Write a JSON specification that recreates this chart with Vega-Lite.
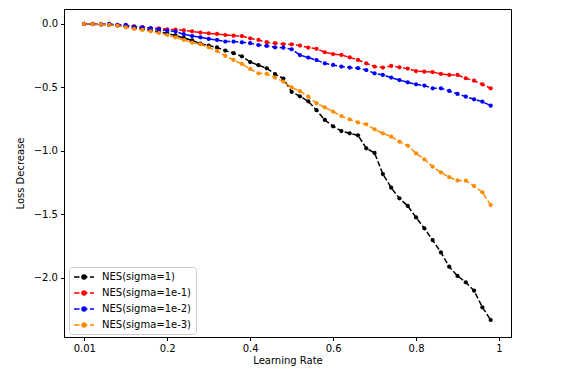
{
  "$schema": "https://vega.github.io/schema/vega-lite/v6.json",
  "width": 447,
  "height": 328,
  "autosize": "none",
  "padding": {"left": 64, "top": 9, "right": 53, "bottom": 37},
  "background": "white",
  "config": {
    "font": "DejaVu Sans",
    "view": {"stroke": "black", "strokeWidth": 1},
    "axis": {"grid": false, "domainColor": "black", "tickColor": "black", "tickSize": 3.5, "labelFontSize": 10, "labelColor": "black", "titleFontSize": 10, "titleFontWeight": "normal", "titleColor": "black", "labelPadding": 3, "labelFont": "DejaVu Sans", "titleFont": "DejaVu Sans"}
  },
  "data": {"values": [
    {"x":0,"s":"NES(sigma=1)","y":0},{"x":0.02,"s":"NES(sigma=1)","y":-0.002},{"x":0.04,"s":"NES(sigma=1)","y":-0.004},{"x":0.06,"s":"NES(sigma=1)","y":-0.008},{"x":0.08,"s":"NES(sigma=1)","y":-0.013},{"x":0.1,"s":"NES(sigma=1)","y":-0.02},{"x":0.12,"s":"NES(sigma=1)","y":-0.03},{"x":0.14,"s":"NES(sigma=1)","y":-0.04},{"x":0.16,"s":"NES(sigma=1)","y":-0.05},{"x":0.18,"s":"NES(sigma=1)","y":-0.06},
    {"x":0.2,"s":"NES(sigma=1)","y":-0.075},{"x":0.22,"s":"NES(sigma=1)","y":-0.09},{"x":0.24,"s":"NES(sigma=1)","y":-0.11},{"x":0.26,"s":"NES(sigma=1)","y":-0.13},{"x":0.28,"s":"NES(sigma=1)","y":-0.155},{"x":0.3,"s":"NES(sigma=1)","y":-0.17},{"x":0.32,"s":"NES(sigma=1)","y":-0.185},{"x":0.34,"s":"NES(sigma=1)","y":-0.21},{"x":0.36,"s":"NES(sigma=1)","y":-0.23},{"x":0.38,"s":"NES(sigma=1)","y":-0.255},
    {"x":0.4,"s":"NES(sigma=1)","y":-0.3},{"x":0.42,"s":"NES(sigma=1)","y":-0.325},{"x":0.44,"s":"NES(sigma=1)","y":-0.35},{"x":0.46,"s":"NES(sigma=1)","y":-0.395},{"x":0.48,"s":"NES(sigma=1)","y":-0.43},{"x":0.5,"s":"NES(sigma=1)","y":-0.535},{"x":0.52,"s":"NES(sigma=1)","y":-0.57},{"x":0.54,"s":"NES(sigma=1)","y":-0.61},{"x":0.56,"s":"NES(sigma=1)","y":-0.68},{"x":0.58,"s":"NES(sigma=1)","y":-0.757},
    {"x":0.6,"s":"NES(sigma=1)","y":-0.807},{"x":0.62,"s":"NES(sigma=1)","y":-0.844},{"x":0.64,"s":"NES(sigma=1)","y":-0.862},{"x":0.66,"s":"NES(sigma=1)","y":-0.878},{"x":0.68,"s":"NES(sigma=1)","y":-0.98},{"x":0.7,"s":"NES(sigma=1)","y":-1.017},{"x":0.72,"s":"NES(sigma=1)","y":-1.183},{"x":0.74,"s":"NES(sigma=1)","y":-1.291},{"x":0.76,"s":"NES(sigma=1)","y":-1.375},{"x":0.78,"s":"NES(sigma=1)","y":-1.435},
    {"x":0.8,"s":"NES(sigma=1)","y":-1.525},{"x":0.82,"s":"NES(sigma=1)","y":-1.611},{"x":0.84,"s":"NES(sigma=1)","y":-1.704},{"x":0.86,"s":"NES(sigma=1)","y":-1.801},{"x":0.88,"s":"NES(sigma=1)","y":-1.914},{"x":0.9,"s":"NES(sigma=1)","y":-1.987},{"x":0.92,"s":"NES(sigma=1)","y":-2.037},{"x":0.94,"s":"NES(sigma=1)","y":-2.103},{"x":0.96,"s":"NES(sigma=1)","y":-2.234},{"x":0.98,"s":"NES(sigma=1)","y":-2.334},

    {"x":0,"s":"NES(sigma=1e-1)","y":0},{"x":0.02,"s":"NES(sigma=1e-1)","y":0},{"x":0.04,"s":"NES(sigma=1e-1)","y":-0.003},{"x":0.06,"s":"NES(sigma=1e-1)","y":-0.003},{"x":0.08,"s":"NES(sigma=1e-1)","y":-0.008},{"x":0.1,"s":"NES(sigma=1e-1)","y":-0.013},{"x":0.12,"s":"NES(sigma=1e-1)","y":-0.018},{"x":0.14,"s":"NES(sigma=1e-1)","y":-0.024},{"x":0.16,"s":"NES(sigma=1e-1)","y":-0.032},{"x":0.18,"s":"NES(sigma=1e-1)","y":-0.034},
    {"x":0.2,"s":"NES(sigma=1e-1)","y":-0.042},{"x":0.22,"s":"NES(sigma=1e-1)","y":-0.045},{"x":0.24,"s":"NES(sigma=1e-1)","y":-0.05},{"x":0.26,"s":"NES(sigma=1e-1)","y":-0.058},{"x":0.28,"s":"NES(sigma=1e-1)","y":-0.068},{"x":0.3,"s":"NES(sigma=1e-1)","y":-0.074},{"x":0.32,"s":"NES(sigma=1e-1)","y":-0.079},{"x":0.34,"s":"NES(sigma=1e-1)","y":-0.087},{"x":0.36,"s":"NES(sigma=1e-1)","y":-0.092},{"x":0.38,"s":"NES(sigma=1e-1)","y":-0.095},
    {"x":0.4,"s":"NES(sigma=1e-1)","y":-0.113},{"x":0.42,"s":"NES(sigma=1e-1)","y":-0.126},{"x":0.44,"s":"NES(sigma=1e-1)","y":-0.144},{"x":0.46,"s":"NES(sigma=1e-1)","y":-0.152},{"x":0.48,"s":"NES(sigma=1e-1)","y":-0.158},{"x":0.5,"s":"NES(sigma=1e-1)","y":-0.16},{"x":0.52,"s":"NES(sigma=1e-1)","y":-0.17},{"x":0.54,"s":"NES(sigma=1e-1)","y":-0.186},{"x":0.56,"s":"NES(sigma=1e-1)","y":-0.196},{"x":0.58,"s":"NES(sigma=1e-1)","y":-0.223},
    {"x":0.6,"s":"NES(sigma=1e-1)","y":-0.237},{"x":0.62,"s":"NES(sigma=1e-1)","y":-0.244},{"x":0.64,"s":"NES(sigma=1e-1)","y":-0.263},{"x":0.66,"s":"NES(sigma=1e-1)","y":-0.284},{"x":0.68,"s":"NES(sigma=1e-1)","y":-0.31},{"x":0.7,"s":"NES(sigma=1e-1)","y":-0.336},{"x":0.72,"s":"NES(sigma=1e-1)","y":-0.344},{"x":0.74,"s":"NES(sigma=1e-1)","y":-0.331},{"x":0.76,"s":"NES(sigma=1e-1)","y":-0.342},{"x":0.78,"s":"NES(sigma=1e-1)","y":-0.352},
    {"x":0.8,"s":"NES(sigma=1e-1)","y":-0.371},{"x":0.82,"s":"NES(sigma=1e-1)","y":-0.376},{"x":0.84,"s":"NES(sigma=1e-1)","y":-0.379},{"x":0.86,"s":"NES(sigma=1e-1)","y":-0.394},{"x":0.88,"s":"NES(sigma=1e-1)","y":-0.402},{"x":0.9,"s":"NES(sigma=1e-1)","y":-0.402},{"x":0.92,"s":"NES(sigma=1e-1)","y":-0.428},{"x":0.94,"s":"NES(sigma=1e-1)","y":-0.447},{"x":0.96,"s":"NES(sigma=1e-1)","y":-0.476},{"x":0.98,"s":"NES(sigma=1e-1)","y":-0.507},

    {"x":0,"s":"NES(sigma=1e-2)","y":0},{"x":0.02,"s":"NES(sigma=1e-2)","y":0},{"x":0.04,"s":"NES(sigma=1e-2)","y":-0.003},{"x":0.06,"s":"NES(sigma=1e-2)","y":0},{"x":0.08,"s":"NES(sigma=1e-2)","y":-0.008},{"x":0.1,"s":"NES(sigma=1e-2)","y":-0.008},{"x":0.12,"s":"NES(sigma=1e-2)","y":-0.021},{"x":0.14,"s":"NES(sigma=1e-2)","y":-0.026},{"x":0.16,"s":"NES(sigma=1e-2)","y":-0.034},{"x":0.18,"s":"NES(sigma=1e-2)","y":-0.042},
    {"x":0.2,"s":"NES(sigma=1e-2)","y":-0.053},{"x":0.22,"s":"NES(sigma=1e-2)","y":-0.06},{"x":0.24,"s":"NES(sigma=1e-2)","y":-0.081},{"x":0.26,"s":"NES(sigma=1e-2)","y":-0.095},{"x":0.28,"s":"NES(sigma=1e-2)","y":-0.105},{"x":0.3,"s":"NES(sigma=1e-2)","y":-0.118},{"x":0.32,"s":"NES(sigma=1e-2)","y":-0.126},{"x":0.34,"s":"NES(sigma=1e-2)","y":-0.139},{"x":0.36,"s":"NES(sigma=1e-2)","y":-0.139},{"x":0.38,"s":"NES(sigma=1e-2)","y":-0.145},
    {"x":0.4,"s":"NES(sigma=1e-2)","y":-0.152},{"x":0.42,"s":"NES(sigma=1e-2)","y":-0.166},{"x":0.44,"s":"NES(sigma=1e-2)","y":-0.173},{"x":0.46,"s":"NES(sigma=1e-2)","y":-0.184},{"x":0.48,"s":"NES(sigma=1e-2)","y":-0.187},{"x":0.5,"s":"NES(sigma=1e-2)","y":-0.2},{"x":0.52,"s":"NES(sigma=1e-2)","y":-0.245},{"x":0.54,"s":"NES(sigma=1e-2)","y":-0.265},{"x":0.56,"s":"NES(sigma=1e-2)","y":-0.285},{"x":0.58,"s":"NES(sigma=1e-2)","y":-0.31},
    {"x":0.6,"s":"NES(sigma=1e-2)","y":-0.323},{"x":0.62,"s":"NES(sigma=1e-2)","y":-0.336},{"x":0.64,"s":"NES(sigma=1e-2)","y":-0.344},{"x":0.66,"s":"NES(sigma=1e-2)","y":-0.349},{"x":0.68,"s":"NES(sigma=1e-2)","y":-0.363},{"x":0.7,"s":"NES(sigma=1e-2)","y":-0.389},{"x":0.72,"s":"NES(sigma=1e-2)","y":-0.402},{"x":0.74,"s":"NES(sigma=1e-2)","y":-0.423},{"x":0.76,"s":"NES(sigma=1e-2)","y":-0.442},{"x":0.78,"s":"NES(sigma=1e-2)","y":-0.46},
    {"x":0.8,"s":"NES(sigma=1e-2)","y":-0.476},{"x":0.82,"s":"NES(sigma=1e-2)","y":-0.486},{"x":0.84,"s":"NES(sigma=1e-2)","y":-0.507},{"x":0.86,"s":"NES(sigma=1e-2)","y":-0.507},{"x":0.88,"s":"NES(sigma=1e-2)","y":-0.528},{"x":0.9,"s":"NES(sigma=1e-2)","y":-0.552},{"x":0.92,"s":"NES(sigma=1e-2)","y":-0.573},{"x":0.94,"s":"NES(sigma=1e-2)","y":-0.594},{"x":0.96,"s":"NES(sigma=1e-2)","y":-0.613},{"x":0.98,"s":"NES(sigma=1e-2)","y":-0.644},

    {"x":0,"s":"NES(sigma=1e-3)","y":0},{"x":0.02,"s":"NES(sigma=1e-3)","y":-0.001},{"x":0.04,"s":"NES(sigma=1e-3)","y":-0.003},{"x":0.06,"s":"NES(sigma=1e-3)","y":-0.008},{"x":0.08,"s":"NES(sigma=1e-3)","y":-0.013},{"x":0.1,"s":"NES(sigma=1e-3)","y":-0.026},{"x":0.12,"s":"NES(sigma=1e-3)","y":-0.039},{"x":0.14,"s":"NES(sigma=1e-3)","y":-0.047},{"x":0.16,"s":"NES(sigma=1e-3)","y":-0.058},{"x":0.18,"s":"NES(sigma=1e-3)","y":-0.071},
    {"x":0.2,"s":"NES(sigma=1e-3)","y":-0.087},{"x":0.22,"s":"NES(sigma=1e-3)","y":-0.105},{"x":0.24,"s":"NES(sigma=1e-3)","y":-0.126},{"x":0.26,"s":"NES(sigma=1e-3)","y":-0.147},{"x":0.28,"s":"NES(sigma=1e-3)","y":-0.16},{"x":0.3,"s":"NES(sigma=1e-3)","y":-0.184},{"x":0.32,"s":"NES(sigma=1e-3)","y":-0.213},{"x":0.34,"s":"NES(sigma=1e-3)","y":-0.252},{"x":0.36,"s":"NES(sigma=1e-3)","y":-0.284},{"x":0.38,"s":"NES(sigma=1e-3)","y":-0.315},
    {"x":0.4,"s":"NES(sigma=1e-3)","y":-0.355},{"x":0.42,"s":"NES(sigma=1e-3)","y":-0.389},{"x":0.44,"s":"NES(sigma=1e-3)","y":-0.394},{"x":0.46,"s":"NES(sigma=1e-3)","y":-0.423},{"x":0.48,"s":"NES(sigma=1e-3)","y":-0.455},{"x":0.5,"s":"NES(sigma=1e-3)","y":-0.5},{"x":0.52,"s":"NES(sigma=1e-3)","y":-0.53},{"x":0.54,"s":"NES(sigma=1e-3)","y":-0.573},{"x":0.56,"s":"NES(sigma=1e-3)","y":-0.625},{"x":0.58,"s":"NES(sigma=1e-3)","y":-0.657},
    {"x":0.6,"s":"NES(sigma=1e-3)","y":-0.691},{"x":0.62,"s":"NES(sigma=1e-3)","y":-0.726},{"x":0.64,"s":"NES(sigma=1e-3)","y":-0.752},{"x":0.66,"s":"NES(sigma=1e-3)","y":-0.776},{"x":0.68,"s":"NES(sigma=1e-3)","y":-0.791},{"x":0.7,"s":"NES(sigma=1e-3)","y":-0.831},{"x":0.72,"s":"NES(sigma=1e-3)","y":-0.862},{"x":0.74,"s":"NES(sigma=1e-3)","y":-0.889},{"x":0.76,"s":"NES(sigma=1e-3)","y":-0.928},{"x":0.78,"s":"NES(sigma=1e-3)","y":-0.96},
    {"x":0.8,"s":"NES(sigma=1e-3)","y":-1.02},{"x":0.82,"s":"NES(sigma=1e-3)","y":-1.067},{"x":0.84,"s":"NES(sigma=1e-3)","y":-1.125},{"x":0.86,"s":"NES(sigma=1e-3)","y":-1.17},{"x":0.88,"s":"NES(sigma=1e-3)","y":-1.208},{"x":0.9,"s":"NES(sigma=1e-3)","y":-1.234},{"x":0.92,"s":"NES(sigma=1e-3)","y":-1.236},{"x":0.94,"s":"NES(sigma=1e-3)","y":-1.278},{"x":0.96,"s":"NES(sigma=1e-3)","y":-1.327},{"x":0.98,"s":"NES(sigma=1e-3)","y":-1.428}
  ]},
  "encoding": {
    "x": {"field": "x", "type": "quantitative", "title": "Learning Rate",
      "scale": {"domain": [-0.049, 1.029], "nice": false, "zero": false},
      "axis": {"values": [0, 0.2, 0.4, 0.6, 0.8, 1], "labelExpr": "datum.value == 0 ? '0.01' : (datum.value == 1 ? '1' : format(datum.value, '.1f'))", "titlePadding": 2}},
    "y": {"field": "y", "type": "quantitative", "title": "Loss Decrease",
      "scale": {"domain": [-2.468, 0.118], "nice": false, "zero": false},
      "axis": {"values": [0, -0.5, -1, -1.5, -2], "labelExpr": "replace(format(datum.value, '.1f'), '-', '\u2212')", "titlePadding": 8}},
    "color": {"field": "s", "type": "nominal",
      "scale": {"domain": ["NES(sigma=1)", "NES(sigma=1e-1)", "NES(sigma=1e-2)", "NES(sigma=1e-3)"], "range": ["#000000", "#ff0000", "#0000ff", "#ff8c00"]},
      "legend": {"orient": "none", "legendX": 5, "legendY": 258, "title": null,
        "symbolType": "M-2,0H-0.89M-0.41,0H0.7M1.18,0H2M0.4,0A0.4,0.4,0,1,1,-0.4,0A0.4,0.4,0,1,1,0.4,0Z",
        "symbolSize": 100, "symbolStrokeWidth": 1.5, "symbolOffset": 5, "labelOffset": 12, "padding": 4, "rowPadding": 5,
        "labelFontSize": 10, "labelFont": "DejaVu Sans", "labelColor": "black", "fillColor": "rgba(255,255,255,0.8)", "strokeColor": "#cccccc", "cornerRadius": 3,
        "encode": {"symbols": {"update": {"fill": {"scale": "color", "field": "value"}, "stroke": {"scale": "color", "field": "value"}}}}}}
  },
  "layer": [
    {"mark": {"type": "line", "strokeWidth": 1.5, "strokeDash": [5.5, 2.4]}},
    {"mark": {"type": "point", "filled": true, "size": 18, "opacity": 1}}
  ]
}
